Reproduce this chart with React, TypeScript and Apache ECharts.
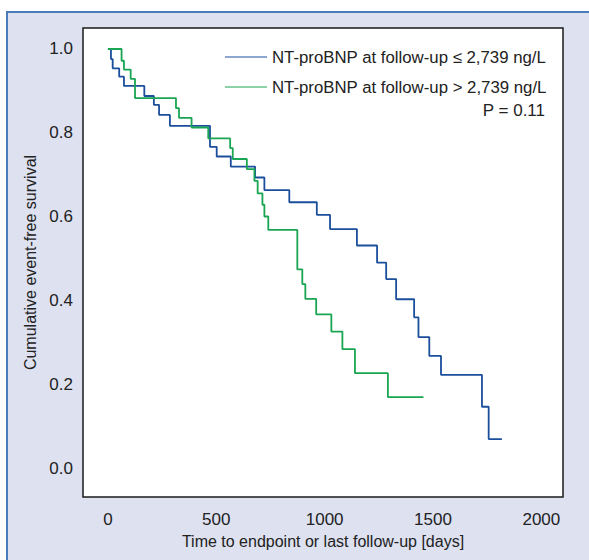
import React, { useEffect, useRef } from "react";
import * as echarts from "echarts";

const lowTimes = [0, 14, 22, 52, 74, 168, 212, 236, 286, 471, 502, 567, 679, 722, 837, 964, 1025, 1149, 1242, 1284, 1330, 1413, 1433, 1483, 1537, 1726, 1757, 1818];
const lowSurv = [1.0, 0.976, 0.954, 0.934, 0.912, 0.888, 0.867, 0.843, 0.817, 0.767, 0.744, 0.72, 0.694, 0.664, 0.635, 0.605, 0.571, 0.532, 0.491, 0.452, 0.404, 0.361, 0.314, 0.269, 0.224, 0.148, 0.071, 0.071];

const highTimes = [0, 63, 74, 105, 125, 314, 328, 386, 463, 564, 576, 641, 676, 691, 713, 722, 740, 874, 897, 911, 961, 1031, 1082, 1140, 1292, 1456];
const highSurv = [1.0, 0.972, 0.951, 0.929, 0.883, 0.859, 0.836, 0.813, 0.787, 0.764, 0.738, 0.714, 0.686, 0.656, 0.629, 0.601, 0.569, 0.475, 0.44, 0.405, 0.368, 0.327, 0.285, 0.228, 0.171, 0.171];

const xTicks = [0, 500, 1000, 1500, 2000];
const yTicks = [0, 0.2, 0.4, 0.6, 0.8, 1.0];

const seriesNames = [
  "NT-proBNP at follow-up \u2264 2,739 ng/L",
  "NT-proBNP at follow-up > 2,739 ng/L",
];
const pText = "P = 0.11";
const xName = "Time to endpoint or last follow-up [days]";
const yName = "Cumulative event-free survival";

const FONT = "'Liberation Sans', Arial, sans-serif";
const TXT = "#222";

export default function App() {
  const ref = useRef<HTMLDivElement>(null);
  useEffect(() => {
    if (!ref.current) return;
    const chart = echarts.init(ref.current, undefined, { renderer: "svg" });
    const low = lowTimes.map((t, i) => [t, lowSurv[i]]);
    const high = highTimes.map((t, i) => [t, highSurv[i]]);
    chart.setOption({
      animation: false,
      backgroundColor: "#ffffff",
      textStyle: { fontFamily: FONT },
      graphic: [
        {
          type: "rect",
          z: -10,
          silent: true,
          shape: { x: 7, y: 12, width: 640, height: 620 },
          style: { fill: "#dde1f0", stroke: "#4a7cb9", lineWidth: 2 },
        },
        {
          type: "text",
          z: 10,
          right: 44,
          top: 102,
          style: { text: pText, fontSize: 17, fontFamily: FONT, fill: TXT, textAlign: "right" },
        },
      ],
      grid: {
        left: 83,
        right: 26,
        top: 28,
        bottom: 63,
        show: true,
        backgroundColor: "#ffffff",
        borderColor: "#1a1a1a",
        borderWidth: 1.5,
        z: 1,
      },
      legend: {
        left: 220,
        top: 42,
        orient: "vertical",
        itemWidth: 42,
        itemHeight: 14,
        itemGap: 10,
        icon: "path://M0,0 L42,0 L42,1 L0,1 Z",
        data: seriesNames,
        textStyle: { fontSize: 16.8, fontFamily: FONT, color: TXT, lineHeight: 20 },
      },
      xAxis: {
        type: "value",
        min: -115,
        max: 2100,
        name: xName,
        nameLocation: "middle",
        nameGap: 36,
        nameTextStyle: { fontSize: 16, fontFamily: FONT, color: TXT },
        axisLine: { show: false },
        splitLine: { show: false },
        axisTick: { show: true, length: 8, customValues: xTicks, lineStyle: { color: "#1a1a1a", width: 1 } },
        axisLabel: {
          customValues: xTicks,
          fontSize: 17,
          fontFamily: FONT,
          color: TXT,
          margin: 14,
          formatter: (v: number) => String(v),
        },
      },
      yAxis: {
        type: "value",
        min: -0.067,
        max: 1.05,
        name: yName,
        nameLocation: "middle",
        nameGap: 31,
        nameTextStyle: { fontSize: 16, fontFamily: FONT, color: TXT },
        axisLine: { show: false },
        splitLine: { show: false },
        axisTick: { show: true, length: 8, customValues: yTicks, lineStyle: { color: "#1a1a1a", width: 1 } },
        axisLabel: {
          customValues: yTicks,
          fontSize: 17,
          fontFamily: FONT,
          color: TXT,
          margin: 10,
          formatter: (v: number) => v.toFixed(1),
        },
      },
      series: [
        {
          name: seriesNames[0],
          type: "line",
          step: "end",
          data: low,
          symbol: "none",
          lineStyle: { color: "#1b4f9c", width: 1.8 },
          itemStyle: { color: "#1b4f9c" },
          z: 3,
        },
        {
          name: seriesNames[1],
          type: "line",
          step: "end",
          data: high,
          symbol: "none",
          lineStyle: { color: "#1aa552", width: 1.8 },
          itemStyle: { color: "#1aa552" },
          z: 3,
        },
      ],
    });
    return () => chart.dispose();
  }, []);
  return (
    <div
      ref={ref}
      style={{ position: "absolute", left: 0, top: 0, width: 589, height: 560 }}
    />
  );
}
